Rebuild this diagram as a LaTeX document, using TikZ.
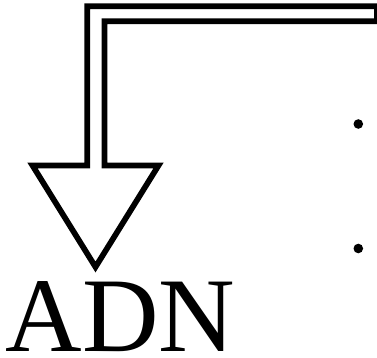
\documentclass[tikz,border=0pt]{standalone}
\usepackage{fontspec}
\setmainfont{Liberation Serif}
\begin{document}
\begin{tikzpicture}[x=1pt,y=-1pt,
  arrowline/.style={draw=black,line width=5.7pt,line join=miter,miter limit=10},
  bulletdot/.style={fill=black}]
\useasboundingbox (0,0) rectangle (377,358);
% double-line bent arrow
\path[arrowline] (377,6.2) -- (87.2,6.2) -- (87.2,165.5) -- (32.5,165.5)
  -- (95.5,267) -- (158.5,165.5) -- (104.5,165.5) -- (104.5,21.2) -- (377,21.2) -- cycle;
% bullets
\fill[bulletdot] (358.3,124) circle (4.8pt);
\fill[bulletdot] (358.3,248.5) circle (4.8pt);
% text
\node[anchor=base west,inner sep=0pt,text depth=0pt,font=\fontsize{106pt}{110pt}\selectfont] (adn) at (5.5,351.3) {ADN};
\end{tikzpicture}
\end{document}
